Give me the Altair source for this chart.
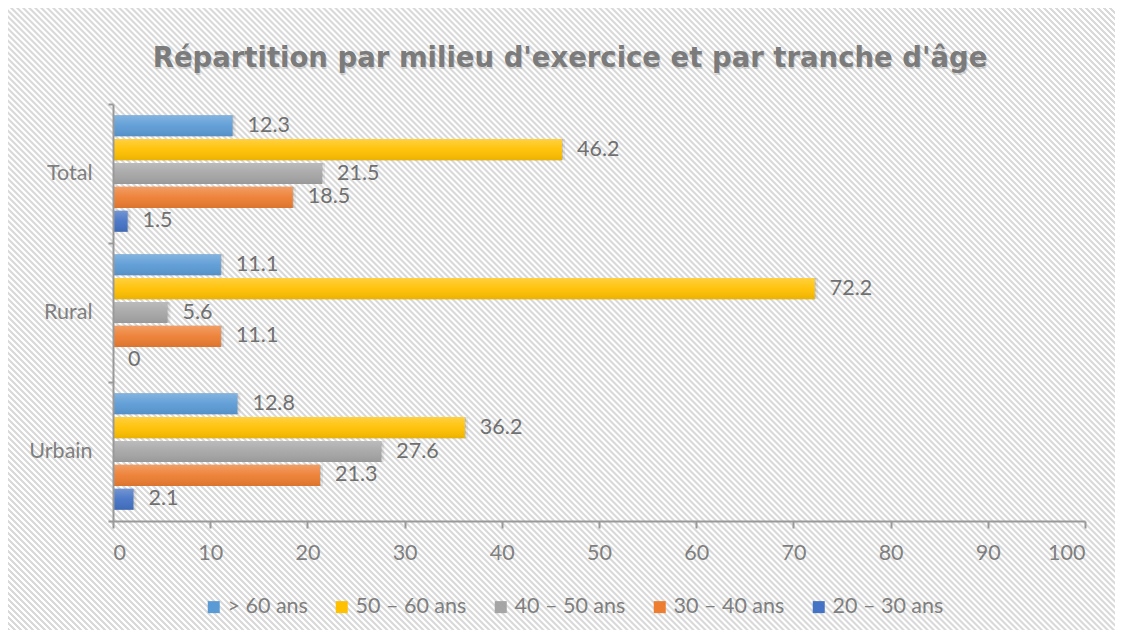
import altair as alt
import pandas as pd

# ---- data ----
categories = ["Total", "Rural", "Urbain"]
series = ["> 60 ans", "50 – 60 ans", "40 – 50 ans", "30 – 40 ans", "20 – 30 ans"]
v_60plus = [12.3, 11.1, 12.8]
v_50_60 = [46.2, 72.2, 36.2]
v_40_50 = [21.5, 5.6, 27.6]
v_30_40 = [18.5, 11.1, 21.3]
v_20_30 = [1.5, 0, 2.1]
colors = ["#5B9BD5", "#FFC000", "#A5A5A5", "#ED7D31", "#4472C4"]
x_ticks = list(range(0, 101, 10))
title_text = "Répartition par milieu d'exercice et par tranche d'âge"

values_by_series = [v_60plus, v_50_60, v_40_50, v_30_40, v_20_30]
rows = []
for s, vals in zip(series, values_by_series):
    for c, v in zip(categories, vals):
        rows.append({"cat": c, "series": s, "value": v, "label": f"{v:g}"})
df = pd.DataFrame(rows)

# ---- layout ----
W, H = 972, 417
PL, PT, PR, PB = 105, 96, 30, 109
CW, CH = PL + W + PR, PT + H + PB

FONT = "Lato"
TXT = "#7f7f7f"
AX = "#999999"
FS = 21.5

# diagonal hatch background as a striped linear gradient
a = (CW + CH) / (CW + CH * CH / CW)
N = 288
stops = []
g_col, w_col = "#d9d9d9", "#ffffff"
for i in range(N):
    b = i / N
    stops.append(alt.GradientStop(offset=round(b, 6), color=g_col))
    stops.append(alt.GradientStop(offset=round(b + 0.33 / N, 6), color=g_col))
    stops.append(alt.GradientStop(offset=round(b + 0.5 / N, 6), color=w_col))
    stops.append(alt.GradientStop(offset=round(b + 0.83 / N, 6), color=w_col))
stops.append(alt.GradientStop(offset=1, color=g_col))
hatch = alt.LinearGradient(gradient="linear", stops=stops,
                           x1=0, y1=1, x2=a, y2=1 - a * CH / CW)

one = alt.Data(values=[{"t": title_text}])

bg = alt.Chart(one).mark_rect(fill=hatch, strokeWidth=0).encode(
    x=alt.value(-PL), x2=alt.value(W + PR), y=alt.value(-PT), y2=alt.value(H + PB)
)

TFONT = "DejaVu Sans"
TFS = 27.5
title_shadow = alt.Chart(one).mark_text(
    font=TFONT, fontSize=TFS, fontWeight="bold", color="#000000", opacity=0.12,
    align="center", baseline="alphabetic", dx=1, dy=2
).encode(x=alt.value(457), y=alt.value(-37), text="t:N")

title = alt.Chart(one).mark_text(
    font=TFONT, fontSize=TFS, fontWeight="bold", color="#7b7b7b",
    align="center", baseline="alphabetic"
).encode(x=alt.value(457), y=alt.value(-37), text="t:N")

base = alt.Chart(df).encode(
    x=alt.X("value:Q", scale=alt.Scale(domain=[0, 100], nice=False),
            axis=alt.Axis(values=x_ticks, grid=False, title=None, zindex=2,
                          domainColor=AX, domainWidth=2, tickColor=AX, tickWidth=2,
                          tickSize=7, labelFont=FONT, labelFontSize=FS,
                          labelColor=TXT, labelPadding=14)),
    y=alt.Y("cat:N", sort=categories,
            scale=alt.Scale(paddingInner=0, paddingOuter=0),
            axis=alt.Axis(title=None, tickBand="extent", domainColor=AX, zindex=2,
                          domainWidth=2, tickColor=AX, tickWidth=2, tickSize=5,
                          labelFont=FONT, labelFontSize=FS, labelColor=TXT,
                          labelPadding=16)),
    yOffset=alt.YOffset("series:N", sort=series,
                        scale=alt.Scale(paddingInner=0.12, paddingOuter=0.47)),
)

shadow1 = base.mark_bar(color="#000000", opacity=0.10, xOffset=1, yOffset=2)
shadow2 = base.mark_bar(color="#000000", opacity=0.08, xOffset=3, yOffset=4)

bars = base.mark_bar().encode(
    color=alt.Color("series:N", sort=series,
                    scale=alt.Scale(domain=series, range=colors),
                    legend=alt.Legend(orient="none", legendX=90, legendY=492,
                                      direction="horizontal", title=None,
                                      symbolType="square", symbolSize=144,
                                      symbolStrokeWidth=0, labelFont=FONT,
                                      labelFontSize=FS, labelColor=TXT,
                                      labelOffset=3, columnPadding=23,
                                      padding=0, zindex=2))
)

gloss = base.mark_bar(
    fill=alt.LinearGradient(
        gradient="linear",
        stops=[alt.GradientStop(offset=0, color="rgba(255,255,255,0.25)"),
               alt.GradientStop(offset=0.5, color="rgba(255,255,255,0.05)"),
               alt.GradientStop(offset=1, color="rgba(0,0,0,0.08)")],
        x1=0, y1=0, x2=0, y2=1)
)

labels = base.mark_text(
    align="left", baseline="middle", dx=15, font=FONT, fontSize=FS, color="#707070"
).encode(text="label:N")

chart = alt.layer(bg, title_shadow, title, shadow2, shadow1, bars, gloss, labels).properties(
    width=W, height=H,
    autosize=alt.AutoSizeParams(type="none"),
    padding={"left": PL, "top": PT, "right": PR, "bottom": PB},
    background="white",
).configure_view(stroke=None)

chart.save("out.html", embed_options={"renderer": "svg", "actions": False})
